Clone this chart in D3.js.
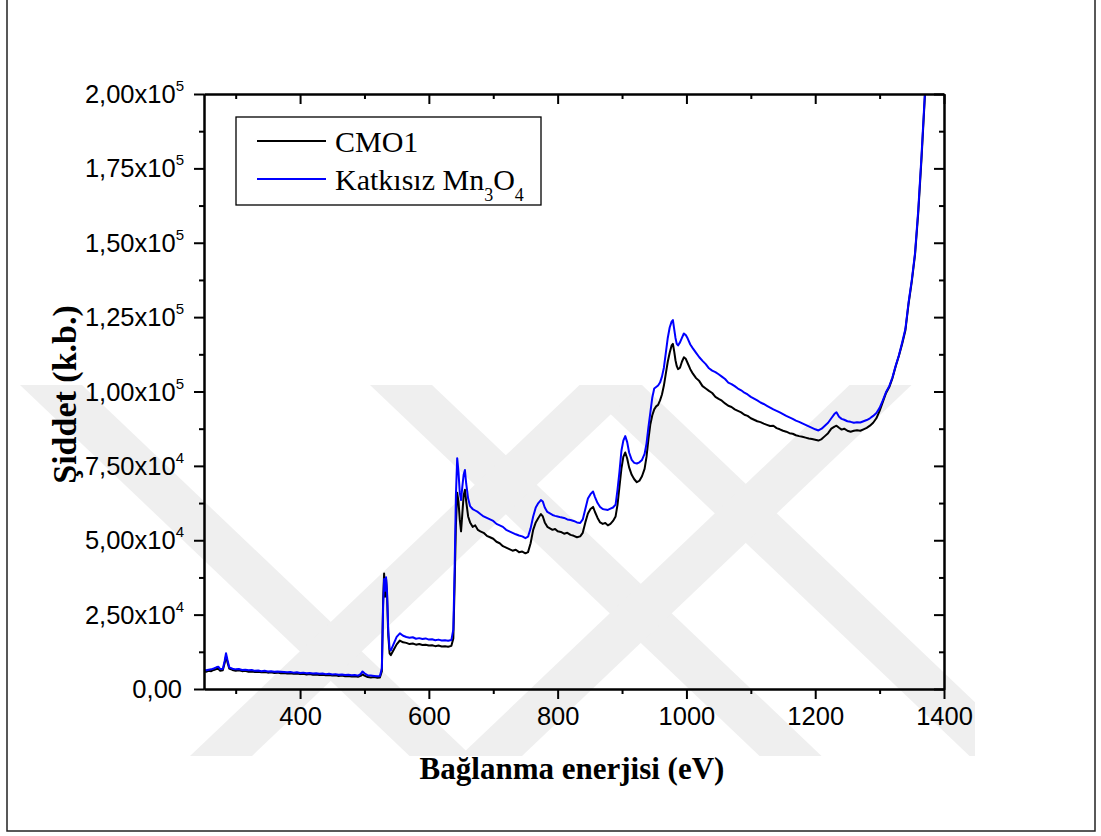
<!DOCTYPE html>
<html><head><meta charset="utf-8">
<script src="https://cdn.jsdelivr.net/npm/d3@7"></script>
<style>body{margin:0;background:#fff}svg{display:block}</style>
</head><body><svg id="c" width="1101" height="836"></svg>
<script>
// ---------- data ----------
const energy = [250,254,258,262,266,270,273,276,280,283,285,287,290,295,300,305,310,315,320,325,330,335,340,345,350,355,360,365,370,375,380,385,390,395,400,405,410,415,420,425,430,435,440,445,450,455,460,465,470,475,480,485,490,494,497,500,505,510,515,520,524,527,529,530.5,532,533.5,535,537,539,541,545,550,555,560,565,570,575,580,585,590,595,600,605,610,615,620,625,630,635,638,640,642,644,646,648,650,652,654,656,658,661,664,668,672,676,680,685,690,695,700,705,710,715,720,725,730,735,740,745,750,754,758,762,766,770,774,777,780,784,788,792,796,800,805,810,815,820,825,830,835,839,843,847,851,855,858,862,866,870,874,878,882,886,890,893,896,899,902,905,908,911,915,919,923,927,931,935,938,941,944,947,950,953,956,959,962,965,968,971,974,977,979,981,983,985,987,990,993,996,999,1002,1006,1010,1015,1020,1025,1030,1035,1040,1045,1050,1055,1060,1065,1070,1075,1080,1085,1090,1095,1100,1105,1110,1115,1120,1125,1130,1135,1140,1145,1150,1155,1160,1165,1170,1175,1180,1185,1190,1195,1200,1205,1210,1215,1220,1225,1230,1233,1237,1241,1245,1250,1255,1260,1265,1270,1275,1280,1285,1290,1295,1300,1305,1310,1315,1320,1325,1330,1335,1340,1345,1350,1355,1360,1365,1370,1375];
const cmo1 = [6000,5800,6100,6000,6400,6700,6800,6100,6300,8800,11000,9200,6900,6400,6100,6300,6000,6100,5800,5900,5700,5800,5600,5700,5500,5600,5400,5500,5300,5400,5200,5300,5100,5200,5000,5100,4900,5000,4800,4900,4700,4800,4600,4700,4500,4600,4400,4500,4300,4400,4200,4300,4100,4400,4900,4500,4000,3900,4000,3800,3900,6000,30000,38800,31000,37000,32000,18000,12000,11400,13000,15000,16300,15700,15500,15100,15300,14900,15100,14800,14900,14600,14700,14400,14600,14300,14400,14200,14500,17000,35000,55000,66000,63000,57000,53000,59000,65000,67000,63000,58000,56000,54500,55000,53500,53000,52500,51500,51000,50500,49500,49000,48000,47500,47000,46500,46800,46000,46200,45600,46000,49000,53500,56000,57500,58800,58000,56000,54500,54000,53500,53800,53000,52800,52200,52500,51800,51500,51000,51300,52500,56000,59000,60500,61200,59500,57500,56000,55500,55800,55000,55500,56500,58000,62000,68000,74000,78000,79500,77500,74500,72000,70500,69500,70000,71500,74000,78000,84000,89000,92000,94000,95000,95500,97000,99000,102000,106000,110000,113000,115500,116000,113500,110500,108500,107500,108000,110000,111500,111000,109500,107500,106000,104500,103500,101800,101000,100200,99500,98200,97500,96900,96000,95200,94800,94000,93500,93000,92200,91800,91000,90500,90000,89700,89200,88800,88400,88500,87700,87300,86800,86500,86000,85800,85300,85000,84800,84500,84200,84000,83800,83500,84000,85000,86000,87500,88200,88500,87800,87200,87500,86800,86500,86800,87000,86800,87300,87800,88500,89500,91000,93500,96500,99500,101500,104500,108500,112000,116000,120500,129500,137000,146000,160000,178000,198000,218000];
const mn3o4 = [6400,6300,6500,6600,6900,7300,7500,6700,6700,9600,12000,10000,7300,6800,6600,6700,6400,6500,6300,6400,6100,6200,6000,6100,5900,6000,5800,5900,5800,5700,5600,5700,5500,5600,5400,5500,5300,5400,5200,5300,5100,5200,5000,5100,4900,5000,4800,4900,4700,4800,4600,4700,4500,5000,5900,5300,4600,4500,4400,4300,4400,7000,28000,37000,33000,37600,33000,19500,13500,13000,15000,17500,18700,17900,17500,17200,17400,16900,17100,16800,17000,16600,16700,16400,16600,16300,16400,16200,16500,20000,40000,65000,77600,73000,66000,63500,68000,72000,73600,69000,64000,61500,60500,60000,59500,58800,58000,57500,57000,56500,55500,55000,54500,53500,53000,52500,52000,51600,51300,50700,51200,54000,58000,61000,62500,63500,63000,61000,59500,59000,58500,58200,58000,57700,57500,57000,56800,56500,56000,55800,57000,60500,64000,65500,66400,64500,62500,61200,60500,60300,60200,60600,61000,62000,67000,73000,80000,83500,85000,83000,79500,77000,76000,75800,76200,77000,79000,82500,88000,93000,98000,101000,101500,102000,103000,105000,108000,113000,118000,121500,123500,124000,121000,118000,116000,115500,116500,118000,119500,119000,117800,115800,114500,113000,111500,110300,109200,107800,107000,106500,105800,105000,104200,103000,102500,101800,101000,100400,99600,99000,98200,97600,97000,96300,95800,95200,94600,94000,93500,93000,92400,91800,91300,90800,90200,89800,89300,88800,88300,87800,87300,86900,87500,88500,89500,91000,92500,93000,91500,90800,90500,90000,89800,89500,89700,89600,90000,90400,91000,91800,92800,94500,97000,99800,101800,104800,108700,112200,116500,121000,130000,137500,146500,161000,179000,199000,219000];
const seriesNames = ["CMO1", "Katkısız Mn"];
const seriesColors = ["#000000", "#0000ff"];
const xMajorTicks = [400,600,800,1000,1200,1400];
const xMinorTicks = [300,500,700,900,1100,1300];
const yMajorTicks = [0,25000,50000,75000,100000,125000,150000,175000,200000];
const yMinorTicks = [12500,37500,62500,87500,112500,137500,162500,187500];
const yTickMantissa = ["0,00","2,50x10","5,00x10","7,50x10","1,00x10","1,25x10","1,50x10","1,75x10","2,00x10"];
const yTickExponent = ["","4","4","4","5","5","5","5","5"];

// ---------- layout ----------
const svg = d3.select("#c");
const L = 204, R = 944, T = 94, B = 689;
const x = d3.scaleLinear([250.8, 1400], [L, R]);
const y = d3.scaleLinear([0, 200000], [B, T]);

// outer frame
svg.append("rect").attr("x", 7).attr("y", -5).attr("width", 1088).attr("height", 836)
  .attr("fill", "#fff").attr("stroke", "#222").attr("stroke-width", 1.5);

// watermark (decorative stripes)
svg.append("clipPath").attr("id", "wmclip").append("rect")
  .attr("x", 0).attr("y", 385).attr("width", 975).attr("height", 371);
const wm = svg.append("g").attr("fill", "#efefef").attr("clip-path", "url(#wmclip)");
const Y0 = 385, Y1 = 756, S = 1.05, W = 62;
function stripeDown(topX) { // "\" stripe
  const bx = topX + (Y1 - Y0) * S;
  return [[topX, Y0], [topX + W, Y0], [bx + W, Y1], [bx, Y1]];
}
function stripeUp(botX) { // "/" stripe
  const tx = botX + (Y1 - Y0) * S;
  return [[botX, Y1], [botX + W, Y1], [tx + W, Y0], [tx, Y0]];
}
const stripes = [stripeDown(20), stripeDown(370), stripeDown(580), stripeUp(190), stripeUp(460)];
stripes.forEach(p => wm.append("polygon").attr("points", p.map(d => d.join(",")).join(" ")));

// clip
svg.append("clipPath").attr("id", "clip").append("rect")
  .attr("x", L).attr("y", T).attr("width", R - L).attr("height", B - T);

// lines
const line = d3.line().x((d, i) => x(energy[i])).y(d => y(d));
const gl = svg.append("g").attr("clip-path", "url(#clip)");
[cmo1, mn3o4].forEach((s, k) => {
  gl.append("path").datum(s).attr("d", line).attr("fill", "none")
    .attr("stroke", seriesColors[k]).attr("stroke-width", 2).attr("stroke-linejoin", "round");
});

// axes
function styleAxis(g) {
  g.selectAll("path.domain").attr("stroke", "#000").attr("stroke-width", 2);
  g.selectAll(".tick line").attr("stroke", "#000").attr("stroke-width", 2);
}
const fontSans = "Liberation Sans, Arial, sans-serif";
const fontSerif = "Liberation Serif, Times New Roman, serif";
const gx = svg.append("g").attr("transform", `translate(0,${B})`);
gx.call(d3.axisBottom(x).tickValues(xMajorTicks).tickSize(10).tickSizeOuter(0).tickPadding(8).tickFormat(d => d));
gx.selectAll("text").attr("font-family", fontSans).attr("font-size", 25.5).attr("fill", "#000").attr("dy", "0.72em");
styleAxis(gx);
const gx2 = svg.append("g").attr("transform", `translate(0,${B})`);
gx2.call(d3.axisBottom(x).tickValues(xMinorTicks).tickSize(5).tickSizeOuter(0).tickFormat(""));
styleAxis(gx2);
const gt = svg.append("g").attr("transform", `translate(0,${T})`);
gt.call(d3.axisTop(x).tickValues(xMajorTicks).tickSize(-10).tickSizeOuter(0).tickFormat(""));
styleAxis(gt);
const gt2 = svg.append("g").attr("transform", `translate(0,${T})`);
gt2.call(d3.axisTop(x).tickValues(xMinorTicks).tickSize(-5).tickSizeOuter(0).tickFormat(""));
styleAxis(gt2);

const gy = svg.append("g").attr("transform", `translate(${L},0)`);
gy.call(d3.axisLeft(y).tickValues(yMajorTicks).tickSize(10).tickSizeOuter(0).tickFormat(""));
styleAxis(gy);
const gy2 = svg.append("g").attr("transform", `translate(${L},0)`);
gy2.call(d3.axisLeft(y).tickValues(yMinorTicks).tickSize(5).tickSizeOuter(0).tickFormat(""));
styleAxis(gy2);
const gr = svg.append("g").attr("transform", `translate(${R},0)`);
gr.call(d3.axisRight(y).tickValues(yMajorTicks).tickSize(-10).tickSizeOuter(0).tickFormat(""));
styleAxis(gr);
const gr2 = svg.append("g").attr("transform", `translate(${R},0)`);
gr2.call(d3.axisRight(y).tickValues(yMinorTicks).tickSize(-5).tickSizeOuter(0).tickFormat(""));
styleAxis(gr2);

// y tick labels with superscripts
const yl = svg.append("g").attr("font-family", fontSans).attr("fill", "#000");
yMajorTicks.forEach((v, i) => {
  const t = yl.append("text").attr("x", 184).attr("y", y(v) + 9).attr("text-anchor", "end").attr("font-size", 25.5);
  if (yTickExponent[i]) {
    t.append("tspan").text(yTickMantissa[i]);
    t.append("tspan").attr("dy", -12).attr("font-size", 15).text(yTickExponent[i]);
  } else {
    t.attr("x", 182).text(yTickMantissa[i]);
  }
});

// axis titles
svg.append("text").attr("x", (L + R) / 2 - 2).attr("y", 779).attr("text-anchor", "middle")
  .attr("font-family", fontSerif).attr("font-weight", "bold").attr("font-size", 31)
  .text("Bağlanma enerjisi (eV)");
svg.append("text").attr("transform", `translate(76,${(T + B) / 2 + 3}) rotate(-90)`).attr("text-anchor", "middle")
  .attr("font-family", fontSerif).attr("font-weight", "bold").attr("font-size", 34)
  .text("Şiddet (k.b.)");

// legend
const lg = svg.append("g");
lg.append("rect").attr("x", 236).attr("y", 117).attr("width", 305).attr("height", 88)
  .attr("fill", "#fff").attr("stroke", "#000").attr("stroke-width", 1.3);
const legY = [141, 179];
seriesNames.forEach((n, k) => {
  lg.append("line").attr("x1", 257).attr("x2", 326).attr("y1", legY[k]).attr("y2", legY[k])
    .attr("stroke", seriesColors[k]).attr("stroke-width", 2);
  const t = lg.append("text").attr("x", 335).attr("y", legY[k] + 11)
    .attr("font-family", fontSerif).attr("font-size", 30).text(n);
  if (k === 1) {
    t.append("tspan").attr("dy", 11).attr("font-size", 18).text("3");
    t.append("tspan").attr("dy", -11).attr("font-size", 30).text("O");
    t.append("tspan").attr("dy", 11).attr("font-size", 18).text("4");
  }
});
</script></body></html>
